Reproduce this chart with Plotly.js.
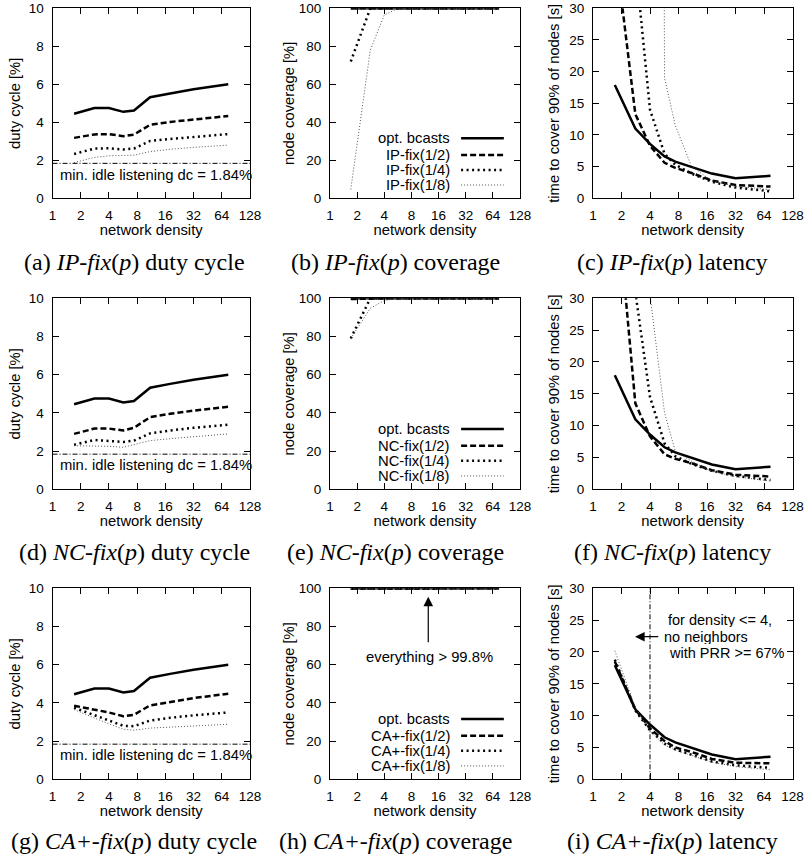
<!DOCTYPE html>
<html>
<head>
<meta charset="utf-8">
<script src="https://cdn.plot.ly/plotly-3.0.1.min.js"></script>
<style>html,body{margin:0;padding:0;background:#fff;}#chart{width:807px;height:863px;}</style>
</head>
<body>
<div id="chart"></div>
<script>
// ---------- data ----------
const density = [1.7, 2.8, 4, 5.7, 7.4, 11, 18, 32, 75];
const densityTicks = [1, 2, 4, 8, 16, 32, 64, 128];

// duty cycle [%]
const optDuty  = [4.45, 4.75, 4.75, 4.55, 4.62, 5.32, 5.52, 5.74, 6.0];
const ipDuty12 = [3.18, 3.36, 3.38, 3.27, 3.35, 3.87, 4.02, 4.15, 4.33];
const ipDuty14 = [2.33, 2.62, 2.63, 2.57, 2.62, 3.02, 3.12, 3.24, 3.38];
const ipDuty18 = [1.88, 2.15, 2.24, 2.24, 2.27, 2.46, 2.58, 2.68, 2.8];
const ncDuty12 = [2.9, 3.18, 3.18, 3.08, 3.22, 3.78, 3.95, 4.12, 4.32];
const ncDuty14 = [2.33, 2.58, 2.53, 2.48, 2.55, 2.93, 3.08, 3.22, 3.38];
const ncDuty18 = [2.28, 2.27, 2.25, 2.2, 2.35, 2.55, 2.65, 2.75, 2.9];
const caDuty12 = [3.85, 3.65, 3.5, 3.3, 3.38, 3.87, 4.05, 4.25, 4.48];
const caDuty14 = [3.75, 3.35, 3.05, 2.8, 2.78, 3.08, 3.22, 3.35, 3.5];
const caDuty18 = [3.65, 3.2, 2.9, 2.62, 2.57, 2.68, 2.73, 2.8, 2.88];
const idleDuty = 1.84;

// node coverage [%]
const optCov  = [100, 100, 100, 100, 100, 100, 100, 100, 100];
const ipCov12 = [100, 100, 100, 100, 100, 100, 100, 100, 100];
const ipCov14 = [72, 100, 100, 100, 100, 100, 100, 100, 100];
const ipCov18 = [4.7, 78, 96.5, 100, 100, 100, 100, 100, 100];
const ncCov12 = [99.6, 100, 100, 100, 100, 100, 100, 100, 100];
const ncCov14 = [79, 100, 100, 100, 100, 100, 100, 100, 100];
const ncCov18 = [79, 94.8, 98.8, 100, 100, 100, 100, 100, 100];
const caCov12 = [99.9, 99.9, 100, 100, 100, 100, 100, 100, 100];
const caCov14 = [99.9, 99.9, 100, 100, 100, 100, 100, 100, 100];
const caCov18 = [99.8, 99.9, 100, 100, 100, 100, 100, 100, 100];

// latency: time to cover 90% of nodes [s]
const optLat  = [17.9, 11.0, 8.6, 6.6, 5.8, 5.0, 3.9, 3.15, 3.55];
const ipLat12 = [40, 13.3, 8.3, 5.6, 4.8, 4.0, 2.8, 2.1, 1.85];
const ipLat14 = [null, 37.5, 14, 7.0, 5.3, 3.9, 2.6, 1.7, 1.1];
const ipLat18 = [null, null, 600, 19, 11.5, 5.0, 2.8, 1.9, 1.35];
const ncLat12 = [49, 13.5, 8.3, 5.5, 4.8, 4.1, 3.0, 2.3, 2.0];
const ncLat14 = [null, 31, 14.5, 7.2, 5.2, 4.0, 2.9, 2.1, 1.45];
const ncLat18 = [null, 300, 30.5, 12, 6.0, 4.4, 2.8, 2.0, 1.3];
const caLat12 = [18.5, 11.0, 8.0, 6.0, 5.0, 4.3, 3.2, 2.6, 2.5];
const caLat14 = [18.8, 10.8, 7.7, 5.6, 4.7, 3.8, 2.8, 2.2, 1.8];
const caLat18 = [20.2, 11.3, 7.6, 5.4, 4.6, 3.7, 2.7, 2.0, 1.5];
const neighborLimitDensity = 4;

const ipNames = ['opt. bcasts', 'IP-fix(1/2)', 'IP-fix(1/4)', 'IP-fix(1/8)'];
const ncNames = ['opt. bcasts', 'NC-fix(1/2)', 'NC-fix(1/4)', 'NC-fix(1/8)'];
const caNames = ['opt. bcasts', 'CA+-fix(1/2)', 'CA+-fix(1/4)', 'CA+-fix(1/8)'];

const captions = [
  '(a) <i>IP-fix</i>(<i>p</i>) duty cycle', '(b) <i>IP-fix</i>(<i>p</i>) coverage', '(c) <i>IP-fix</i>(<i>p</i>) latency',
  '(d) <i>NC-fix</i>(<i>p</i>) duty cycle', '(e) <i>NC-fix</i>(<i>p</i>) coverage', '(f) <i>NC-fix</i>(<i>p</i>) latency',
  '(g) <i>CA+-fix</i>(<i>p</i>) duty cycle', '(h) <i>CA+-fix</i>(<i>p</i>) coverage', '(i) <i>CA+-fix</i>(<i>p</i>) latency'
];
const yTitles = ['duty cycle [%]', 'node coverage [%]', 'time to cover 90% of nodes [s]'];
const yRanges = [[0, 10], [0, 100], [0, 30]];
const yDticks = [2, 20, 5];

// ---------- styling / layout ----------
const W = 807, H = 863;
const colX = [[52.5, 250], [330, 520], [593, 792.5]];
const rowY = [[8.3, 198.3], [298.3, 489.3], [588.3, 779.3]];
const capX = [134, 395, 672];
const capY = [262, 552, 841];
const yStandoff = [4, 0, 6];
const SANS = 'Liberation Sans, Arial, sans-serif';
const SERIF = 'Liberation Serif, Times New Roman, serif';
const styles = [
  {color: '#000', width: 2.5, dash: 'solid'},
  {color: '#000', width: 2.5, dash: '6px,3px'},
  {color: '#000', width: 2.5, dash: '2px,3.5px'},
  {color: '#555', width: 1, dash: '1px,2px'}
];
const dashDot = '5px,2px,1px,2px';

const panels = [
  [optDuty, ipDuty12, ipDuty14, ipDuty18], [optCov, ipCov12, ipCov14, ipCov18], [optLat, ipLat12, ipLat14, ipLat18],
  [optDuty, ncDuty12, ncDuty14, ncDuty18], [optCov, ncCov12, ncCov14, ncCov18], [optLat, ncLat12, ncLat14, ncLat18],
  [optDuty, caDuty12, caDuty14, caDuty18], [optCov, caCov12, caCov14, caCov18], [optLat, caLat12, caLat14, caLat18]
];
const nameSets = [ipNames, ipNames, ipNames, ncNames, ncNames, ncNames, caNames, caNames, caNames];

const traces = [];
const layout = {
  width: W, height: H, margin: {l: 0, r: 0, t: 0, b: 0},
  paper_bgcolor: '#fff', plot_bgcolor: '#fff', showlegend: false,
  font: {family: SANS, color: '#000', size: 14.8},
  annotations: [], shapes: []
};

for (let k = 0; k < 9; k++) {
  const r = Math.floor(k / 3), c = k % 3;
  const xid = k === 0 ? 'x' : 'x' + (k + 1);
  const yid = k === 0 ? 'y' : 'y' + (k + 1);
  const xk = k === 0 ? 'xaxis' : 'xaxis' + (k + 1);
  const yk = k === 0 ? 'yaxis' : 'yaxis' + (k + 1);
  layout[xk] = {
    domain: [colX[c][0] / W, colX[c][1] / W], anchor: yid,
    type: 'log', range: [0, Math.log10(128)],
    tickvals: densityTicks, ticktext: densityTicks.map(String),
    ticks: 'inside', ticklen: 6, tickwidth: 1, tickcolor: '#000',
    showline: true, linecolor: '#000', linewidth: 1, mirror: 'allticks',
    showgrid: false, zeroline: false, automargin: false,
    ticklabelstandoff: 4,
    tickfont: {family: SANS, size: 13.5, color: '#000'},
    title: {text: 'network density', font: {family: SANS, size: 14.8, color: '#000'}, standoff: 3}
  };
  layout[yk] = {
    domain: [1 - rowY[r][1] / H, 1 - rowY[r][0] / H], anchor: xid,
    range: yRanges[c], dtick: yDticks[c], tick0: 0,
    ticks: 'inside', ticklen: 6, tickwidth: 1, tickcolor: '#000',
    showline: true, linecolor: '#000', linewidth: 1, mirror: 'allticks',
    showgrid: false, zeroline: false, automargin: false,
    ticklabelstandoff: 5,
    tickfont: {family: SANS, size: 13.5, color: '#000'},
    title: {text: yTitles[c], font: {family: SANS, size: 14.8, color: '#000'}, standoff: yStandoff[c]}
  };
  // reference lines
  if (c === 0) {
    traces.push({x: [densityTicks[0], densityTicks[densityTicks.length - 1]], y: [idleDuty, idleDuty],
      xaxis: xid, yaxis: yid, mode: 'lines', line: {color: '#000', width: 1, dash: dashDot}, hoverinfo: 'skip'});
    layout.annotations.push({xref: xid + ' domain', yref: yid, x: 0.03, y: 1.25, xanchor: 'left', yanchor: 'middle',
      text: 'min. idle listening dc = ' + idleDuty + '%', showarrow: false, font: {family: SANS, size: 14.8, color: '#000'}});
  }
  if (k === 8) {
    traces.push({x: [neighborLimitDensity, neighborLimitDensity], y: yRanges[2],
      xaxis: xid, yaxis: yid, mode: 'lines', line: {color: '#000', width: 1, dash: dashDot}, hoverinfo: 'skip'});
  }
  // series
  panels[k].forEach((vals, i) => {
    traces.push({x: density, y: vals, xaxis: xid, yaxis: yid, mode: 'lines', name: nameSets[k][i],
      line: Object.assign({}, styles[i]), connectgaps: false, hoverinfo: 'x+y+name'});
  });
  // custom legends (text left, sample right) in coverage panels
  if (c === 1) {
    const ly = [0.316, 0.228, 0.149, 0.07];
    nameSets[k].forEach((nm, i) => {
      layout.annotations.push({xref: xid + ' domain', yref: yid + ' domain', x: 0.64, y: ly[i], xanchor: 'right', yanchor: 'middle',
        text: nm, showarrow: false, font: {family: SANS, size: 14.8, color: '#000'}});
      layout.shapes.push({type: 'line', xref: xid + ' domain', yref: yid + ' domain', x0: 0.69, x1: 0.915, y0: ly[i], y1: ly[i],
        line: Object.assign({}, styles[i])});
    });
  }
  // caption
  layout.annotations.push({xref: 'paper', yref: 'paper', x: capX[c] / W, y: 1 - capY[r] / H, xanchor: 'center', yanchor: 'middle',
    text: captions[k], showarrow: false, font: {family: SERIF, size: 24, color: '#000'}});
}

// (h) annotation
layout.annotations.push({xref: 'x8', yref: 'y8', axref: 'x8', ayref: 'y8', x: Math.log10(12.3), y: 95.6, ax: Math.log10(12.3), ay: 71,
  text: '', showarrow: true, arrowhead: 2, arrowsize: 1.6, arrowwidth: 1.2, arrowcolor: '#000'});
layout.annotations.push({xref: 'x8 domain', yref: 'y8', x: 0.526, y: 64.2, xanchor: 'center', yanchor: 'middle',
  text: 'everything &gt; 99.8%', showarrow: false, font: {family: SANS, size: 14.8, color: '#000'}});

// (i) annotation
layout.annotations.push({xref: 'x9', yref: 'y9', axref: 'x9', ayref: 'y9', x: Math.log10(2.78), y: 22.4, ax: Math.log10(5.07), ay: 22.4,
  text: '', showarrow: true, arrowhead: 2, arrowsize: 1.6, arrowwidth: 1.2, arrowcolor: '#000'});
[['for density &lt;= 4,', 0.366, 25.0], ['no neighbors', 0.346, 22.4], ['with PRR &gt;= 67%', 0.37, 19.8]].forEach(t => {
  layout.annotations.push({xref: 'x9 domain', yref: 'y9', x: t[1], y: t[2], xanchor: 'left', yanchor: 'middle',
    text: t[0], showarrow: false, font: {family: SANS, size: 14.5, color: '#000'}, height: 14, valign: 'middle'});
});

Plotly.newPlot('chart', traces, layout, {staticPlot: true, displayModeBar: false});
</script>
</body>
</html>
